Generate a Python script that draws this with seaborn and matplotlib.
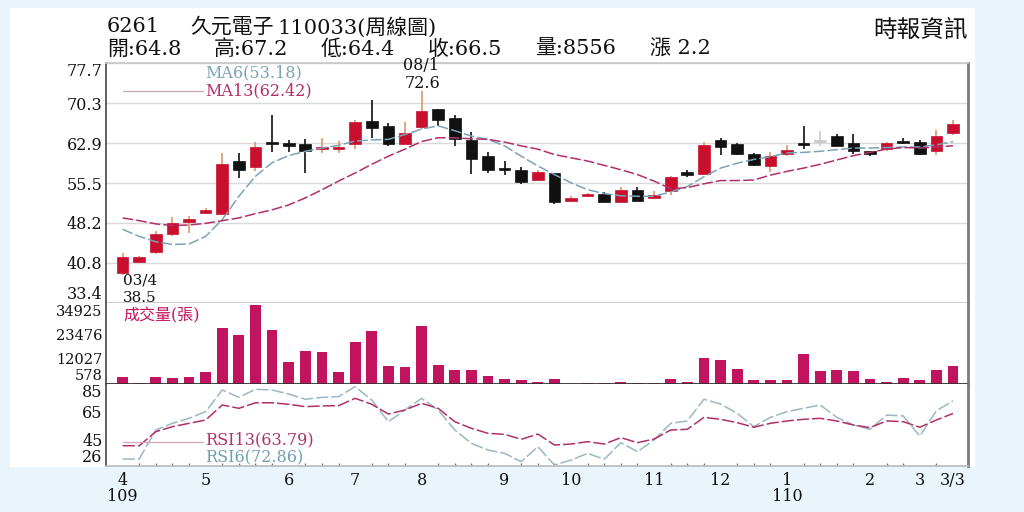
import numpy as np
import seaborn as sns
import matplotlib.pyplot as plt
from matplotlib.lines import Line2D
from matplotlib.patches import Rectangle

# weekly K-line of 6261, 109/03 .. 110/03/03
opens = [39.0, 40.9, 42.8, 46.2, 48.3, 50.0, 49.9, 59.7, 58.5, 63.2,
         63.0, 62.7, 61.8, 61.9, 62.8, 67.0, 66.1, 62.7, 65.8, 69.2,
         67.6, 63.4, 60.5, 58.4, 58.0, 56.1, 57.4, 52.2, 53.1, 53.6,
         52.0, 54.3, 52.8, 54.0, 57.5, 57.3, 63.4, 62.7, 60.9, 58.6,
         60.9, 62.9, 63.2, 64.3, 62.9, 61.4, 61.8, 63.3, 63.2, 61.5, 64.8]
highs = [42.7, 42.1, 46.6, 49.2, 49.4, 50.9, 61.0, 61.0, 63.2, 68.1,
         63.5, 63.6, 63.9, 63.3, 67.1, 70.9, 66.7, 66.9, 72.6, 69.3,
         68.1, 64.9, 61.3, 59.6, 58.5, 57.9, 57.4, 53.2, 53.7, 53.8,
         54.8, 54.8, 54.0, 56.9, 58.0, 63.2, 63.8, 62.9, 61.1, 61.2,
         62.6, 66.0, 65.2, 64.6, 64.6, 61.5, 63.1, 63.8, 63.5, 65.4, 67.2]
lows = [38.5, 40.7, 42.4, 45.7, 46.3, 49.9, 49.9, 56.5, 57.7, 61.3,
        61.3, 57.4, 61.1, 61.0, 61.8, 63.9, 62.4, 62.7, 65.5, 66.1,
        62.4, 57.2, 57.4, 57.1, 55.4, 56.0, 51.7, 52.2, 53.0, 52.0,
        52.0, 52.2, 52.6, 53.4, 56.7, 57.0, 60.7, 60.7, 58.7, 57.5,
        60.6, 61.9, 62.3, 62.3, 60.9, 60.6, 61.5, 62.7, 60.7, 60.7, 64.4]
closes = [41.8, 41.8, 46.1, 48.1, 48.9, 50.5, 59.0, 57.9, 62.2, 62.8,
          62.4, 61.4, 62.2, 62.1, 66.9, 65.7, 62.7, 64.7, 68.9, 67.1,
          63.7, 59.9, 58.0, 57.9, 55.7, 57.5, 52.0, 52.8, 53.6, 52.0,
          54.3, 52.3, 53.3, 56.7, 57.1, 62.6, 62.2, 60.9, 58.9, 60.6,
          61.7, 62.5, 63.2, 62.4, 61.4, 60.9, 62.9, 62.9, 60.9, 64.3, 66.5]

ma6 = [47.0, 45.7, 44.7, 44.2, 44.3, 45.7, 48.8, 53.1, 56.8, 59.3,
       60.6, 61.4, 62.0, 62.5, 63.3, 63.5, 63.6, 64.5, 65.5, 66.1,
       65.2, 64.2, 63.6, 62.4, 60.5, 58.7, 57.1, 55.6, 54.3, 53.6,
       53.2, 53.1, 53.1, 53.9, 54.9, 56.7, 58.3, 59.2, 59.9, 60.4,
       61.1, 61.2, 61.4, 61.7, 62.0, 62.0, 62.1, 62.2, 62.2, 62.6, 63.18]
ma13 = [49.1, 48.6, 48.0, 47.7, 47.8, 48.1, 48.6, 49.1, 49.9, 50.6,
        51.5, 52.8, 54.3, 55.9, 57.4, 59.0, 60.5, 61.8, 63.2, 63.9,
        63.9, 63.7, 63.6, 63.1, 62.4, 61.8, 60.8, 60.2, 59.6, 58.8,
        58.0, 57.1, 55.9, 54.5, 54.7, 55.4, 56.0, 56.0, 56.1, 57.0,
        57.7, 58.3, 59.0, 59.8, 60.6, 61.2, 61.8, 62.1, 62.0, 62.2, 62.42]

volume = [3130, 330, 3270, 2940, 3410, 5600, 26600, 23350, 37700, 25800,
          10740, 15880, 15410, 5740, 20220, 25540, 8550, 8080, 27550, 8870,
          6540, 6540, 3880, 2190, 2010, 790, 2190, 150, 470, 470,
          930, 470, 470, 2190, 1070, 12610, 11680, 7000, 1730, 2010,
          1730, 14150, 6070, 6860, 6070, 2190, 1070, 2800, 1730, 6860, 8556]

rsi13 = [40.6, 40.6, 50.7, 54.3, 56.7, 59.1, 69.9, 67.5, 71.5, 71.5,
         70.4, 68.7, 69.2, 69.4, 74.7, 70.4, 63.4, 66.3, 71.1, 67.5,
         57.9, 53.1, 49.5, 48.8, 45.2, 49.0, 41.1, 41.8, 43.5, 41.8,
         46.4, 42.8, 45.4, 51.9, 52.4, 61.0, 59.6, 57.2, 53.9, 56.7,
         58.4, 59.6, 60.3, 58.4, 55.5, 53.6, 58.4, 57.9, 53.9, 59.1, 63.79]
rsi6 = [31.0, 31.0, 51.9, 56.7, 60.3, 65.1, 80.7, 75.4, 81.2, 80.7,
        77.8, 74.0, 75.4, 75.9, 83.1, 73.5, 57.9, 66.3, 74.7, 66.3,
        51.9, 42.3, 37.5, 35.1, 29.1, 39.9, 26.7, 30.3, 35.1, 30.8,
        42.8, 36.3, 44.7, 56.7, 58.4, 74.0, 70.6, 63.9, 54.3, 61.0,
        65.1, 67.5, 69.9, 61.0, 55.5, 52.4, 62.7, 62.0, 47.6, 65.8, 72.86]

month_pos = [0, 5, 10, 14, 18, 23, 27, 32, 36, 40, 45, 48, 50]
month_labels = ['4\n109', '5', '6', '7', '8', '9', '10', '11', '12',
                '1\n110', '2', '3', '3/3']
price_ticks = [33.4, 40.8, 48.2, 55.5, 62.9, 70.3, 77.7]
vol_ticks = [578, 12027, 23476, 34925]
rsi_ticks = [26, 45, 65, 85]

sns.set_theme(style="white")
plt.rcParams['font.family'] = ['DejaVu Serif', 'Noto Sans CJK TC', 'DejaVu Sans']

UP = '#c8102e'
DOWN = '#111111'
FLAT = '#c9c9c9'
UPWICK = '#d89a66'
MA6C = '#7aa3b8'
MA13C = '#b0306a'
VOLC = '#c2135f'
RSI6C = '#9bb7c2'
W, H = 1024, 512

fig = plt.figure(figsize=(10.24, 5.12), dpi=100, facecolor='#eaf4fb')
fig.add_artist(Rectangle((10 / W, 1 - 467 / H), 965 / W, 459 / H,
                         transform=fig.transFigure, facecolor='white',
                         edgecolor='none', zorder=-5))


def panel(top, bottom):
    return fig.add_axes([106 / W, 1 - bottom / H, 862 / W, (bottom - top) / H])


ax_p = panel(63, 303)
ax_v = panel(303, 384)
ax_r = panel(384, 466)

x = np.arange(len(closes))
o, hi, lo, c = map(np.array, (opens, highs, lows, closes))
body_col = np.where(c > o, UP, np.where(c == o, FLAT, DOWN))
wick_col = np.where(c > o, UPWICK, np.where(c == o, FLAT, DOWN))

# candles
ax_p.vlines(x, lo, hi, colors=wick_col, lw=1.2, zorder=2)
ax_p.bar(x, np.maximum(np.abs(c - o), 0.3), bottom=np.minimum(o, c), width=0.7,
         color=body_col, edgecolor=body_col, lw=0.5, zorder=3)
sns.lineplot(x=x, y=ma6, ax=ax_p, color=MA6C, lw=1.1, linestyle=(0, (7, 2)), zorder=4)
sns.lineplot(x=x, y=ma13, ax=ax_p, color=MA13C, lw=1.1, linestyle=(0, (7, 2)), zorder=4)

# volume
sns.barplot(x=x, y=volume, native_scale=True, color=VOLC, saturation=1,
            width=0.65, errorbar=None, linewidth=0, ax=ax_v)

# RSI
sns.lineplot(x=x, y=rsi6, ax=ax_r, color=RSI6C, lw=1.1, linestyle=(0, (8, 2)))
sns.lineplot(x=x, y=rsi13, ax=ax_r, color=MA13C, lw=1.1, linestyle=(0, (8, 2)))

for ax in (ax_p, ax_v, ax_r):
    ax.set_xlim(-1.0, 50.9)
    ax.set_xlabel('')
    ax.set_ylabel('')
    ax.set_facecolor('white')
    ax.spines['left'].set_color('#444444')
    ax.spines['left'].set_linewidth(1.2)
    ax.spines['right'].set_color('#7a7a7a')
    ax.spines['right'].set_linewidth(2)
    ax.tick_params(axis='y', length=0, pad=2.5, labelsize=11.5, labelcolor='#111111')

ax_p.set_ylim(33.4, 77.7)
ax_p.set_yticks(price_ticks, [f'{t:.1f}' for t in price_ticks])
ax_p.grid(axis='y', color='#d9d9d9', lw=1)
ax_p.spines['top'].set_color('#c8c8c8')
ax_p.spines['bottom'].set_color('#c8c8c8')

ax_v.set_ylim(0, 38700)
ax_v.set_yticks(vol_ticks, [str(t) for t in vol_ticks])
ax_v.tick_params(axis='y', labelsize=10.5)
ax_v.spines['top'].set_visible(False)
ax_v.spines['bottom'].set_color('#333333')
ax_v.spines['bottom'].set_linewidth(1.3)

ax_r.set_ylim(26, 85)
ax_r.set_yticks(rsi_ticks, [str(t) for t in rsi_ticks])
ax_r.spines['top'].set_visible(False)
ax_r.spines['bottom'].set_color('#bbbbbb')

for ax in (ax_p, ax_v):
    ax.set_xticks([])

ax_r.set_xticks(month_pos, month_labels)
ax_r.set_xticks(x, minor=True)
ax_r.tick_params(axis='x', which='major', direction='in', length=4, width=1,
                 color='#555555', pad=4, labelsize=11.5, labelcolor='#111111')
ax_r.tick_params(axis='x', which='minor', direction='in', length=2, width=1,
                 color='#777777', bottom=True)
for lab in ax_r.get_xticklabels():
    lab.set_linespacing(0.95)
    lab.set_va('top')

# boundary labels pushed inside their own panel
ax_p.get_yticklabels()[0].set_va('bottom')
ax_p.get_yticklabels()[-1].set_va('top')
ax_v.get_yticklabels()[0].set_va('bottom')
ax_r.get_yticklabels()[0].set_va('bottom')
ax_r.get_yticklabels()[-1].set_va('top')


def label(px, py, s, size=12, color='#111111', ha='left'):
    fig.text(px / W, 1 - py / H, s, fontsize=size, color=color, ha=ha, va='center')


def key_line(px0, px1, py, color):
    fig.add_artist(Line2D([px0 / W, px1 / W], [1 - py / H, 1 - py / H],
                          transform=fig.transFigure, color=color, lw=0.9))


# header
label(107, 27, '6261', 15)
label(190, 27, '久元電子', 15)
label(277, 27, '110033(周線圖)', 15)
label(968, 30, '時報資訊', 17, ha='right')
for px, s in zip([107, 214, 321, 428, 535, 650],
                 ['開:64.8', '高:67.2', '低:64.4', '收:66.5', '量:8556', '漲 2.2']):
    label(px, 49, s, 15)

# in-chart notes
label(205, 73, 'MA6(53.18)', 11.5, MA6C)
key_line(123, 203, 91, '#caa3b6')
label(205, 91, 'MA13(62.42)', 11.5, MA13C)
label(421, 66, '08/1', 11.5, ha='center')
label(422, 84, '72.6', 11.5, ha='center')
label(123, 280, '03/4', 11)
label(123, 298, '38.5', 11)
label(123, 316, '成交量(張)', 11.5, VOLC)
key_line(123, 203, 441.7, '#d4a5b8')
label(205, 440, 'RSI13(63.79)', 11.5, MA13C)
label(205, 458, 'RSI6(72.86)', 11.5, '#6f9fb2')

fig.savefig('out.png', dpi=100, facecolor=fig.get_facecolor())
